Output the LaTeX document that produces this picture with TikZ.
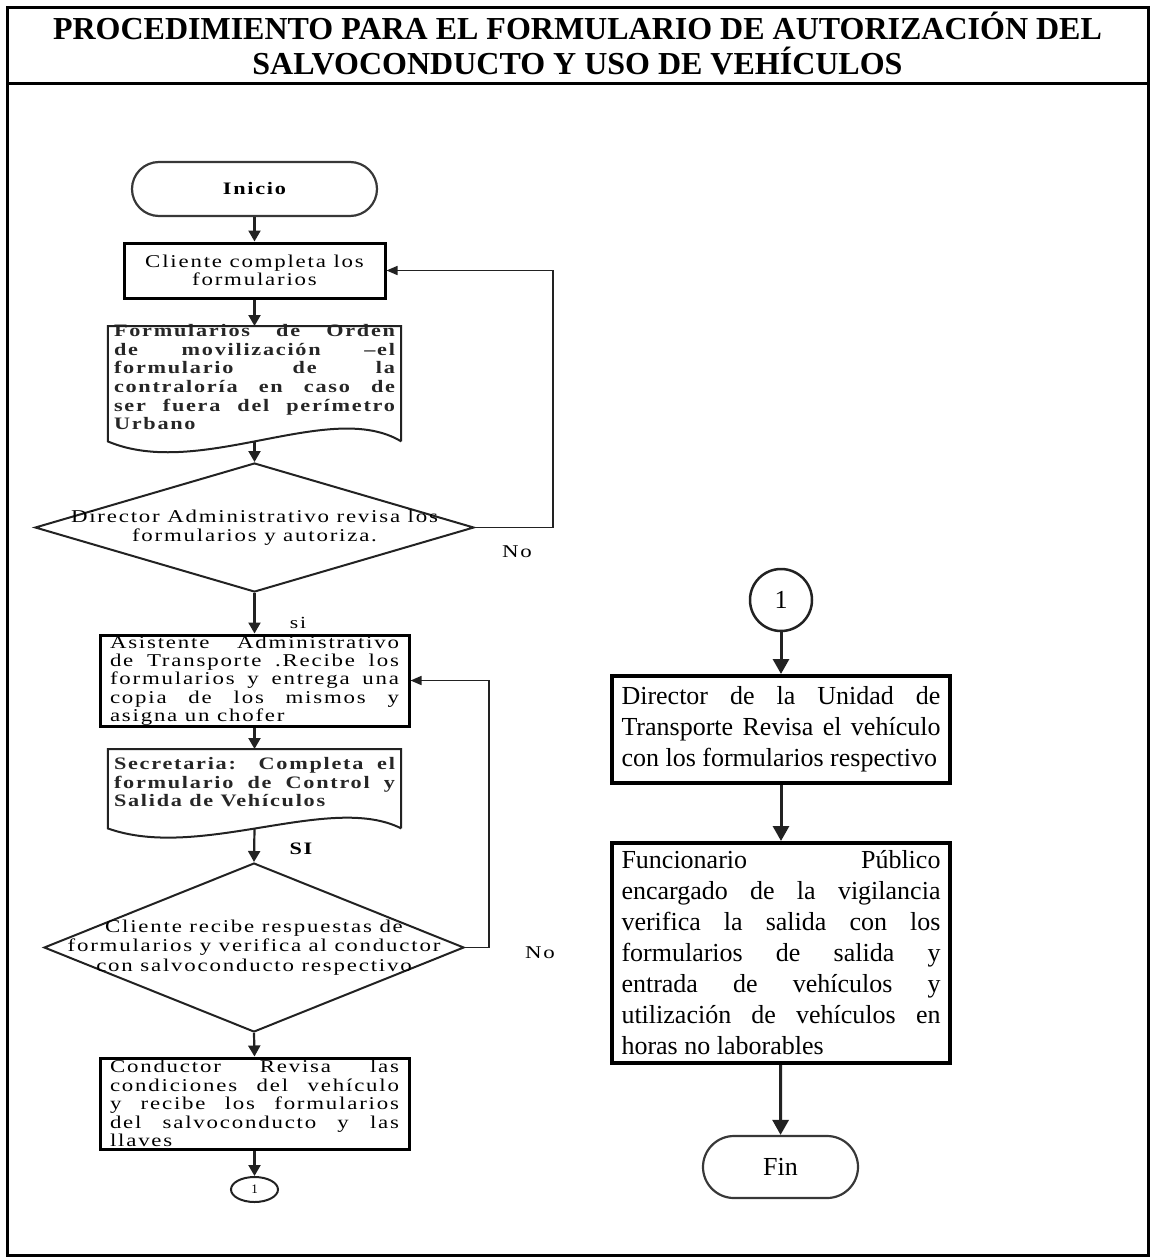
\documentclass[tikz,border=0pt]{standalone}
\usepackage{fontspec}
\setmainfont{Liberation Serif}
\newfontfamily\spaced{Liberation Serif}[FakeStretch=1.27, LetterSpace=10]
\usetikzlibrary{shapes.geometric,arrows.meta}

\definecolor{trazo}{HTML}{222222}

\tikzstyle{txt} = [text centered, inner sep=0pt]
\tikzstyle{proc} = [draw=black, line width=3pt, inner ysep=0pt, inner xsep=10pt, font=\spaced\fontsize{18}{18.4}\selectfont]
\tikzstyle{docu} = [inner ysep=0pt, inner xsep=6pt, font=\spaced\bfseries\fontsize{17.5}{18.7}\selectfont, text=black!85]
\tikzstyle{docline} = [draw=trazo, line width=2pt]
\tikzstyle{decision} = [diamond, draw=trazo, line width=2pt, inner sep=0pt]
\tikzstyle{dtext} = [align=center, inner sep=0pt, font=\spaced\fontsize{18}{19.5}\selectfont]
\tikzstyle{term} = [draw=trazo!90, line width=2.2pt, rectangle]
\tikzstyle{flecha} = [draw=trazo, line width=2.2pt, -{Triangle[length=11pt,width=12pt]}]
\tikzstyle{lazo} = [draw=trazo, line width=1.6pt, -{Triangle[length=11pt,width=9pt]}]
\tikzstyle{gruesa} = [draw=trazo, line width=3pt, -{Triangle[length=15pt,width=16pt]}]
\tikzstyle{caja} = [draw=black, line width=4pt, inner ysep=0pt, inner xsep=9.5pt, text width=319pt, align=justify, font=\fontsize{26}{31}\selectfont]

\begin{document}
\begin{tikzpicture}[x=1pt, y=-1pt, >=latex]
\useasboundingbox (0,0) rectangle (1151,1258);

% frame and title
\draw[line width=3pt] (7,7) rectangle (1148,1255);
\draw[line width=3pt] (7,83) -- (1148,83);
\node[txt, align=center, font=\rmfamily\bfseries\fontsize{32}{35}\selectfont] (titulo) at (577.5,44)
  {PROCEDIMIENTO PARA EL FORMULARIO DE AUTORIZACIÓN DEL\\SALVOCONDUCTO Y USO DE VEHÍCULOS};

%INICIO
\node[term, minimum width=245pt, minimum height=54pt, rounded corners=27pt,
      font=\spaced\bfseries\fontsize{17.5}{19}\selectfont] (inicio) at (254.5,189) {Inicio};

%CLIENTE
\node[proc, minimum width=261pt, minimum height=55pt, align=center] (cliente) at (254.5,270.5)
  {Cliente completa los\\formularios};

%FORMULARIOS (documento)
\node[docu, anchor=north] (form) at (254.5,326) {\parbox[c][115pt][t]{281pt}{\vspace*{-2pt}%
  Formularios de Orden\linebreak de movilización –el\linebreak formulario de la\linebreak
  contraloría en caso de\linebreak ser fuera del perímetro\linebreak Urbano}};
\draw[docline] (form.south east) -- (form.north east) -- (form.north west) -- (form.south west)
  .. controls +(92,39) and +(-71,-43) .. (form.south east);

%DECISION 1
\node[decision, minimum width=439pt, minimum height=129pt,
      label={[dtext]center:Director Administrativo revisa los\\formularios y autoriza.}] (dir) at (254.5,527.5) {};
\node[txt, font=\spaced\fontsize{18}{18.7}\selectfont] (no1) at (517,552) {No};
\node[txt, font=\spaced\fontsize{17}{18.7}\selectfont] (si1) at (298,623) {si};

%ASISTENTE
\node[proc, minimum width=309pt, minimum height=91pt, text width=289pt, align=justify] (asist) at (254.5,680.5)
  {Asistente Administrativo\linebreak de Transporte .Recibe los\linebreak formularios y entrega una\linebreak
   copia de los mismos y\linebreak asigna un chofer};

%SECRETARIA (documento)
\node[docu, anchor=north] (secre) at (254.5,749) {\parbox[c][79pt][t]{281pt}{\vspace*{8pt}%
  Secretaria: Completa el\linebreak formulario de Control y\linebreak Salida de Vehículos}};
\draw[docline] (secre.south east) -- (secre.north east) -- (secre.north west) -- (secre.south west)
  .. controls +(92,33) and +(-71,-36) .. (secre.south east);
\node[txt, font=\spaced\bfseries\fontsize{17.5}{18.7}\selectfont] (si2) at (301,849) {SI};

%DECISION 2
\node[decision, minimum width=420pt, minimum height=169pt,
      label={[dtext]center:Cliente recibe respuestas de\\formularios y verifica al conductor\\con salvoconducto respectivo}] (dec2) at (254,947.5) {};
\node[txt, font=\spaced\fontsize{18}{18.7}\selectfont] (no2) at (540,953) {No};

%CONDUCTOR
\node[proc, minimum width=309pt, minimum height=91pt, text width=289pt, align=justify] (cond) at (254.5,1103.5)
  {Conductor Revisa las\linebreak condiciones del vehículo\linebreak y recibe los formularios\linebreak
   del salvoconducto y las\linebreak llaves};

\node[ellipse, draw=trazo, line width=2pt, minimum width=47pt, minimum height=25pt, inner sep=0pt,
      font=\fontsize{13}{13}\selectfont] (con1) at (254.5,1189.5) {1};

% left column arrows
\draw[flecha] (inicio) -- (cliente);
\draw[flecha] (cliente) -- (form);
\draw[flecha] (form.south) -- (dir.north);
\draw[flecha] (dir.south) -- (asist.north);
\draw[flecha] (asist) -- (secre);
\draw[flecha] (secre.south) -- (dec2.north);
\draw[flecha] (dec2.south) -- (cond.north);
\draw[flecha] (cond) -- (con1);
\draw[lazo] (dir.east) -- ++(78,0) |- (cliente.east);
\draw[lazo] (dec2.east) -- ++(24,0) |- (asist.east);

%CONECTOR 1
\node[circle, draw=trazo, line width=2.5pt, minimum size=62pt, inner sep=0pt,
      font=\fontsize{26}{26}\selectfont] (con2) at (781,600) {1};

%DIRECTOR UNIDAD
\node[caja, minimum width=338pt, minimum height=107pt] (dirut) at (781,729.5)
  {Director de la Unidad de\linebreak Transporte Revisa el vehículo\linebreak con los formularios respectivo};

%FUNCIONARIO
\node[caja, minimum width=338pt, minimum height=220pt] (func) at (781,953)
  {Funcionario Público\linebreak encargado de la vigilancia\linebreak verifica la salida con los\linebreak
   formularios de salida y\linebreak entrada de vehículos y\linebreak utilización de vehículos en\linebreak
   horas no laborables};

%FIN
\node[term, minimum width=155pt, minimum height=62pt, rounded corners=31pt,
      font=\fontsize{26}{26}\selectfont] (fin) at (780.5,1167) {Fin};

\draw[gruesa] (con2) -- (dirut);
\draw[gruesa] (dirut) -- (func);
\draw[gruesa] (func) -- (fin);
\end{tikzpicture}
\end{document}
